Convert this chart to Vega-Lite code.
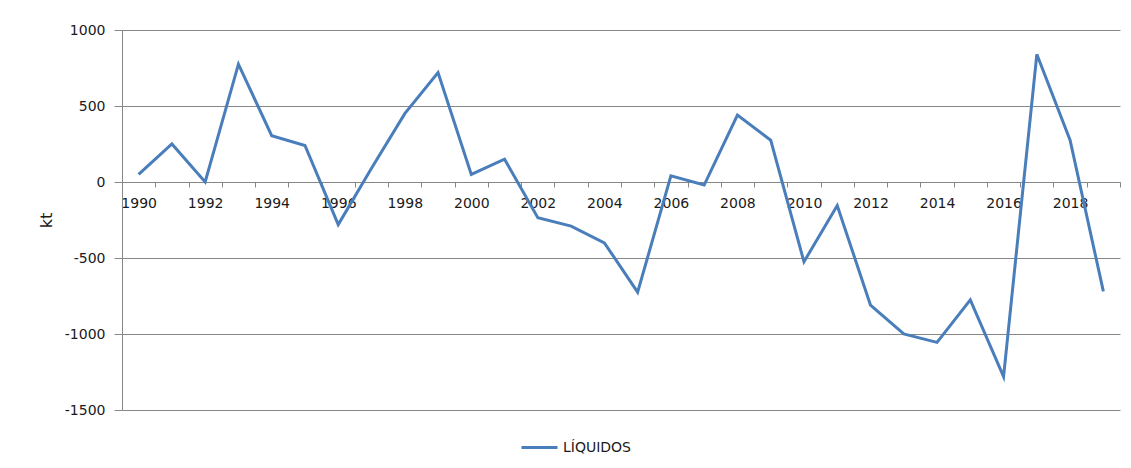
{
  "$schema": "https://vega.github.io/schema/vega-lite/v6.json",
  "width": 998,
  "height": 380,
  "autosize": {"type": "none"},
  "padding": {"left": 122, "top": 30, "right": 11, "bottom": 58},
  "background": "white",
  "config": {"view": {"stroke": null}, "font": "DejaVu Sans"},
  "data": {
    "values": [
      {"year": "1990", "value": 50, "series": "LÍQUIDOS"},
      {"year": "1991", "value": 250, "series": "LÍQUIDOS"},
      {"year": "1992", "value": 0, "series": "LÍQUIDOS"},
      {"year": "1993", "value": 775, "series": "LÍQUIDOS"},
      {"year": "1994", "value": 305, "series": "LÍQUIDOS"},
      {"year": "1995", "value": 240, "series": "LÍQUIDOS"},
      {"year": "1996", "value": -280, "series": "LÍQUIDOS"},
      {"year": "1997", "value": 90, "series": "LÍQUIDOS"},
      {"year": "1998", "value": 450, "series": "LÍQUIDOS"},
      {"year": "1999", "value": 720, "series": "LÍQUIDOS"},
      {"year": "2000", "value": 50, "series": "LÍQUIDOS"},
      {"year": "2001", "value": 150, "series": "LÍQUIDOS"},
      {"year": "2002", "value": -235, "series": "LÍQUIDOS"},
      {"year": "2003", "value": -290, "series": "LÍQUIDOS"},
      {"year": "2004", "value": -400, "series": "LÍQUIDOS"},
      {"year": "2005", "value": -725, "series": "LÍQUIDOS"},
      {"year": "2006", "value": 40, "series": "LÍQUIDOS"},
      {"year": "2007", "value": -20, "series": "LÍQUIDOS"},
      {"year": "2008", "value": 440, "series": "LÍQUIDOS"},
      {"year": "2009", "value": 275, "series": "LÍQUIDOS"},
      {"year": "2010", "value": -525, "series": "LÍQUIDOS"},
      {"year": "2011", "value": -155, "series": "LÍQUIDOS"},
      {"year": "2012", "value": -810, "series": "LÍQUIDOS"},
      {"year": "2013", "value": -1000, "series": "LÍQUIDOS"},
      {"year": "2014", "value": -1055, "series": "LÍQUIDOS"},
      {"year": "2015", "value": -775, "series": "LÍQUIDOS"},
      {"year": "2016", "value": -1280, "series": "LÍQUIDOS"},
      {"year": "2017", "value": 840, "series": "LÍQUIDOS"},
      {"year": "2018", "value": 275, "series": "LÍQUIDOS"},
      {"year": "2019", "value": -720, "series": "LÍQUIDOS"}
    ]
  },
  "mark": {"type": "line", "strokeWidth": 3},
  "encoding": {
    "x": {
      "field": "year",
      "type": "ordinal",
      "scale": {"type": "band", "paddingInner": 0, "paddingOuter": 0},
      "axis": {
        "title": null,
        "offset": -228,
        "tickBand": "extent",
        "labelAngle": 0,
        "labelExpr": "toNumber(datum.label) % 2 == 0 ? datum.label : ''",
        "grid": false,
        "domainColor": "#878787",
        "tickColor": "#878787",
        "tickSize": 5,
        "labelFontSize": 14,
        "labelColor": "#1a1a1a",
        "labelPadding": 9
      }
    },
    "y": {
      "field": "value",
      "type": "quantitative",
      "scale": {"domain": [-1500, 1000], "nice": false, "zero": false},
      "axis": {
        "values": [-1500, -1000, -500, 0, 500, 1000],
        "labelExpr": "datum.value + ''",
        "grid": true,
        "gridColor": "#878787",
        "domainColor": "#878787",
        "tickColor": "#878787",
        "tickSize": 8,
        "labelFontSize": 14,
        "labelColor": "#1a1a1a",
        "labelPadding": 9,
        "title": "kt",
        "titleFontSize": 16,
        "titleFontWeight": "normal",
        "titleColor": "#1a1a1a",
        "titlePadding": 10
      }
    },
    "color": {
      "field": "series",
      "type": "nominal",
      "scale": {"range": ["#4a7ebb"]},
      "legend": {
        "title": null,
        "orient": "none",
        "legendX": 398,
        "legendY": 398,
        "symbolType": "stroke",
        "symbolSize": 1296,
        "symbolStrokeWidth": 3,
        "labelFontSize": 14,
        "labelColor": "#1a1a1a",
        "labelOffset": 4
      }
    }
  }
}
